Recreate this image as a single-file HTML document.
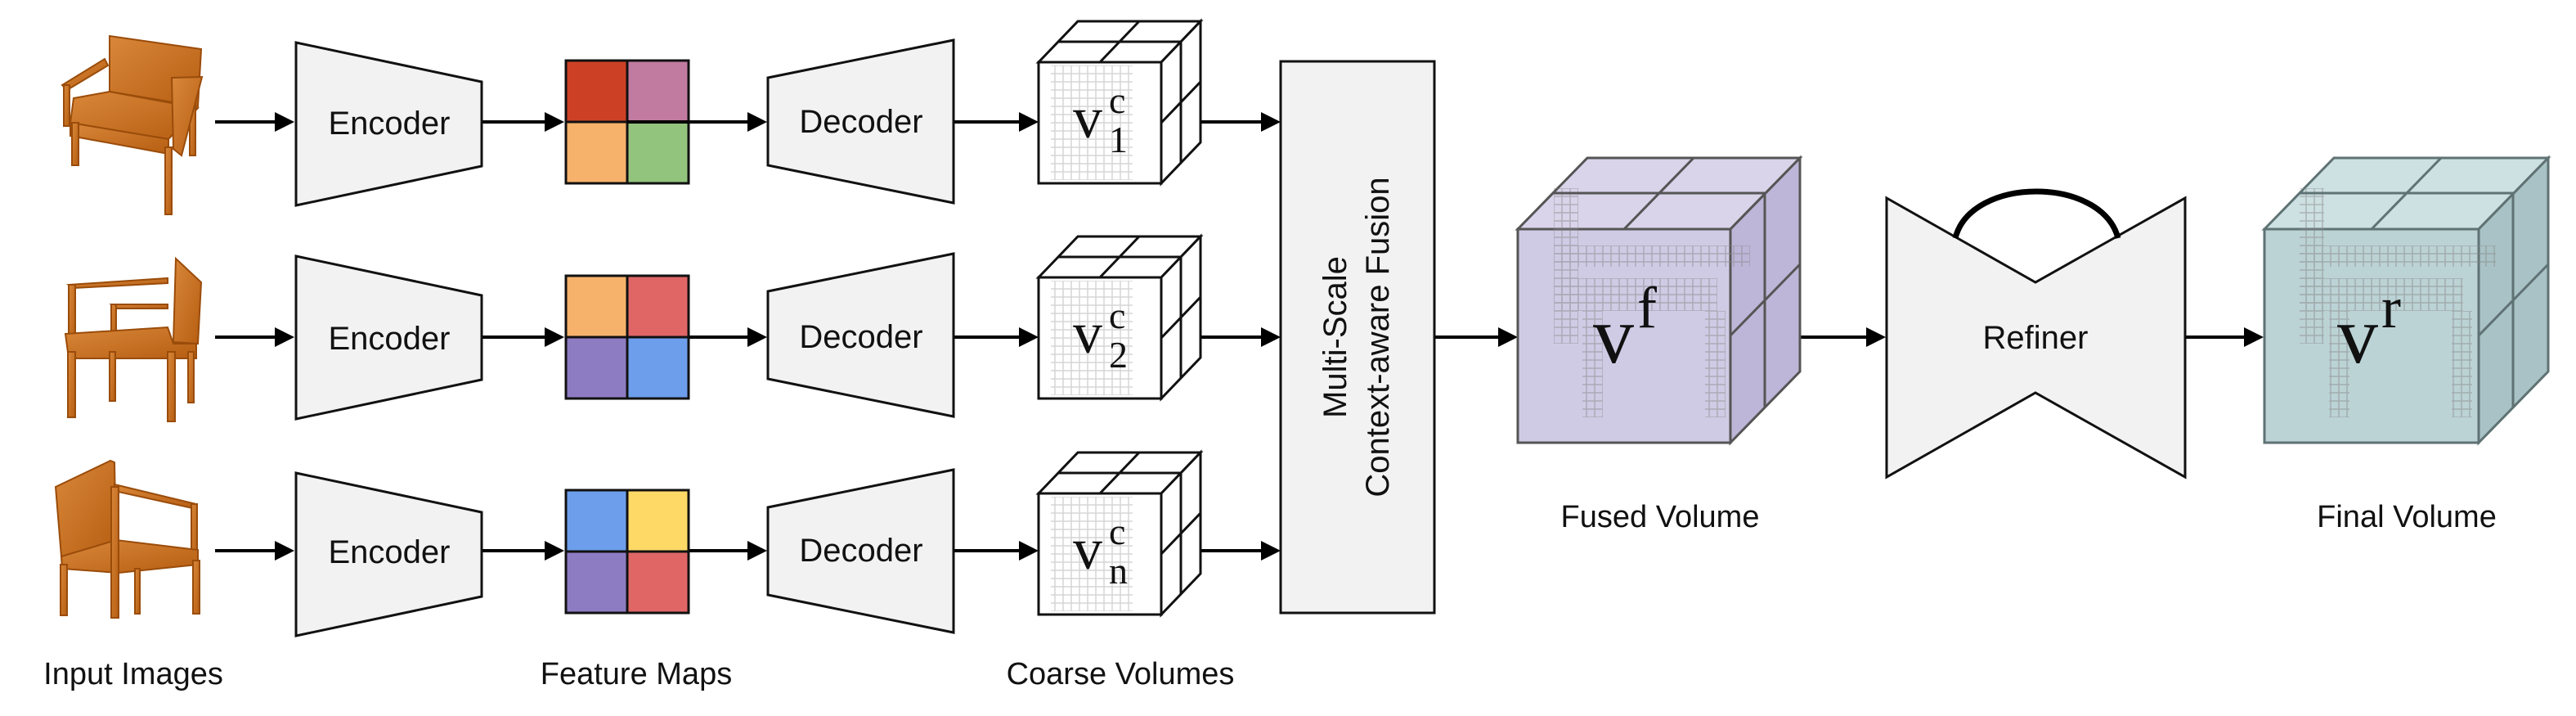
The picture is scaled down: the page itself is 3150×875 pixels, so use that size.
<!DOCTYPE html>
<html><head><meta charset="utf-8"><style>
html,body{margin:0;padding:0;background:#fff;}
svg{display:block;}
.lbl{font-family:"Liberation Sans",sans-serif;font-size:38px;fill:#111;}
.m{font-family:"Liberation Serif",serif;fill:#111;}
</style></head><body>
<svg width="3150" height="875" viewBox="0 0 3150 875" xmlns="http://www.w3.org/2000/svg">
<defs>
<marker id="ah" markerWidth="6" markerHeight="6" refX="5" refY="3" orient="auto" markerUnits="strokeWidth">
<path d="M0,0 L6,3 L0,6 z" fill="#000"/></marker>
<pattern id="vox" width="10" height="10" patternUnits="userSpaceOnUse">
<rect width="10" height="10" fill="none" stroke="#888" stroke-width="1.5"/></pattern>
<linearGradient id="wood" x1="0" y1="0" x2="1" y2="1"><stop offset="0" stop-color="#d9873a"/><stop offset="1" stop-color="#b65e12"/></linearGradient>
</defs>

<g fill="url(#wood)" stroke="#9a4c0a" stroke-width="2">
 <polygon points="134,44 246,60 242,130 134,112"/>
 <polygon points="90,120 134,112 242,132 206,170 86,150"/>
 <polygon points="86,150 206,170 206,188 86,166"/>
 <rect x="88" y="150" width="8" height="52"/><rect x="202" y="180" width="8" height="82"/><rect x="232" y="130" width="7" height="60"/>
 <polygon points="76,104 128,72 132,80 82,110"/><rect x="78" y="104" width="7" height="50"/>
 <polygon points="210,95 247,94 222,190 212,182"/>
 <polygon points="215,316 246,345 242,420 212,418"/>
 <polygon points="84,348 205,340 205,346 90,352"/><rect x="84" y="348" width="8" height="70"/>
 <polygon points="136,372 205,372 205,377 141,377"/><rect x="136" y="372" width="6" height="45"/>
 <polygon points="80,408 205,400 212,420 240,420 240,438 84,438"/>
 <rect x="83" y="430" width="9" height="80"/><rect x="134" y="430" width="7" height="60"/><rect x="205" y="430" width="9" height="85"/><rect x="230" y="430" width="7" height="62"/>
 <polygon points="68,595 135,563 140,565 142,672 75,680"/>
 <polygon points="140,592 240,616 240,622 140,600"/><rect x="234" y="616" width="7" height="70"/>
 <polygon points="75,680 142,660 242,672 242,690 145,700 76,695"/>
 <rect x="74" y="690" width="8" height="62"/><rect x="136" y="595" width="9" height="160"/><rect x="165" y="695" width="6" height="55"/><rect x="236" y="685" width="8" height="65"/>
</g>

<g stroke="#000" stroke-width="4" fill="none" marker-end="url(#ah)">
 <line x1="263" y1="149" x2="356" y2="149"/><line x1="263" y1="412" x2="356" y2="412"/><line x1="263" y1="673" x2="356" y2="673"/>
 <line x1="589" y1="149" x2="686" y2="149"/><line x1="589" y1="412" x2="686" y2="412"/><line x1="589" y1="673" x2="686" y2="673"/>
 <line x1="767" y1="149" x2="934" y2="149"/><line x1="767" y1="412" x2="934" y2="412"/><line x1="767" y1="673" x2="934" y2="673"/>
 <line x1="1166" y1="149" x2="1266" y2="149"/><line x1="1166" y1="412" x2="1266" y2="412"/><line x1="1166" y1="673" x2="1266" y2="673"/>
 <line x1="1469" y1="149" x2="1562" y2="149"/><line x1="1469" y1="412" x2="1562" y2="412"/><line x1="1469" y1="673" x2="1562" y2="673"/>
 <line x1="1754" y1="412" x2="1852" y2="412"/>
 <line x1="2201" y1="412" x2="2302" y2="412"/>
 <line x1="2672" y1="412" x2="2764" y2="412"/>
</g>

<g fill="#f2f2f2" stroke="#111" stroke-width="3">
 <polygon points="362,52 589,100 589,203 362,251"/>
 <polygon points="362,313 589,361 589,464 362,512"/>
 <polygon points="362,578 589,626 589,729 362,777"/>
 <polygon points="939,95 1166,49 1166,248 939,202"/>
 <polygon points="939,356 1166,310 1166,509 939,463"/>
 <polygon points="939,620 1166,574 1166,773 939,727"/>
</g>
<g class="lbl" text-anchor="middle" style="font-size:40px">
 <text x="476" y="164">Encoder</text><text x="476" y="427">Encoder</text><text x="476" y="688">Encoder</text>
 <text x="1053" y="162">Decoder</text><text x="1053" y="425">Decoder</text><text x="1053" y="686">Decoder</text>
</g>

<g stroke="#111" stroke-width="3">
 <rect x="692" y="74" width="75" height="75" fill="#cc4125"/><rect x="767" y="74" width="75" height="75" fill="#c27ba0"/>
 <rect x="692" y="149" width="75" height="75" fill="#f6b26b"/><rect x="767" y="149" width="75" height="75" fill="#93c47d"/>
 <rect x="692" y="337" width="75" height="75" fill="#f6b26b"/><rect x="767" y="337" width="75" height="75" fill="#e06666"/>
 <rect x="692" y="412" width="75" height="75" fill="#8e7cc3"/><rect x="767" y="412" width="75" height="75" fill="#6d9eeb"/>
 <rect x="692" y="599" width="75" height="75" fill="#6d9eeb"/><rect x="767" y="599" width="75" height="75" fill="#ffd966"/>
 <rect x="692" y="674" width="75" height="75" fill="#8e7cc3"/><rect x="767" y="674" width="75" height="75" fill="#e06666"/>
</g>
<line x1="767" y1="149" x2="842" y2="149" stroke="#000" stroke-width="4"/>

<g id="cc">
<g stroke="#111" stroke-width="3" fill="#fff">
 <polygon points="1270,76 1318,26 1468,26 1420,76"/>
 <polygon points="1420,76 1468,26 1468,174 1420,224"/>
 <rect x="1270" y="76" width="150" height="148"/>
 <rect x="1285" y="80" width="100" height="140" fill="url(#vox)" stroke="none" opacity="0.35"/>
 <line x1="1345" y1="76" x2="1393" y2="26"/><line x1="1294" y1="51" x2="1444" y2="51"/>
 <line x1="1444" y1="51" x2="1444" y2="199"/><line x1="1420" y1="150" x2="1468" y2="100"/>
</g>
</g>
<use href="#cc" y="263"/><use href="#cc" y="527"/>
<g class="m">
 <text x="1312" y="168" font-size="72">v</text><text x="1356" y="138" font-size="46">c</text><text x="1356" y="186" font-size="46">1</text>
 <text x="1312" y="431" font-size="72">v</text><text x="1356" y="401" font-size="46">c</text><text x="1356" y="449" font-size="46">2</text>
 <text x="1312" y="695" font-size="72">v</text><text x="1356" y="665" font-size="46">c</text><text x="1356" y="713" font-size="46">n</text>
</g>

<rect x="1566" y="75" width="188" height="674" fill="#f2f2f2" stroke="#111" stroke-width="3"/>
<g class="lbl" style="font-size:40px" text-anchor="middle" transform="translate(1660,412) rotate(-90)">
 <text x="0" y="-14">Multi-Scale</text><text x="0" y="38">Context-aware Fusion</text>
</g>

<g stroke="#555" stroke-width="3">
 <polygon points="1856,280 1941,193 2201,193 2116,280" fill="#d9d4ea"/>
 <polygon points="2116,280 2201,193 2201,454 2116,541" fill="#bdb6d8"/>
 <rect x="1856" y="280" width="260" height="261" fill="#d0cbe5"/>
 <g fill="url(#vox)" stroke="none" opacity="0.5">
  <rect x="1900" y="230" width="30" height="190"/><rect x="1900" y="300" width="240" height="26"/>
  <rect x="1900" y="340" width="200" height="40"/><rect x="1935" y="380" width="25" height="130"/><rect x="2085" y="380" width="25" height="130"/>
 </g>
 <g fill="none"><line x1="1986" y1="280" x2="2071" y2="193"/><line x1="1898" y1="236" x2="2158" y2="236"/>
 <line x1="2158" y1="236" x2="2158" y2="498"/><line x1="2116" y1="410" x2="2201" y2="323"/></g>
</g>
<g class="m"><text x="1948" y="443" font-size="100">v</text><text x="2002" y="400" font-size="72">f</text></g>

<polygon points="2307,242 2489,345 2672,242 2672,583 2489,480 2307,583" fill="#f2f2f2" stroke="#111" stroke-width="3"/>
<path d="M2391,291 C2410,215 2570,215 2590,291" fill="none" stroke="#000" stroke-width="7"/>
<text class="lbl" x="2489" y="426" text-anchor="middle" style="font-size:40px">Refiner</text>

<g stroke="#5f7274" stroke-width="3">
 <polygon points="2769,280 2854,193 3116,193 3031,280" fill="#cde0e2"/>
 <polygon points="3031,280 3116,193 3116,454 3031,541" fill="#a9c2c5"/>
 <rect x="2769" y="280" width="262" height="261" fill="#bcd3d6"/>
 <g fill="url(#vox)" stroke="none" opacity="0.5">
  <rect x="2812" y="230" width="30" height="190"/><rect x="2812" y="300" width="240" height="26"/>
  <rect x="2812" y="340" width="200" height="40"/><rect x="2848" y="380" width="25" height="130"/><rect x="2998" y="380" width="25" height="130"/>
 </g>
 <g fill="none"><line x1="2900" y1="280" x2="2985" y2="193"/><line x1="2811" y1="236" x2="3073" y2="236"/>
 <line x1="3073" y1="236" x2="3073" y2="498"/><line x1="3031" y1="410" x2="3116" y2="323"/></g>
</g>
<g class="m"><text x="2858" y="443" font-size="100">v</text><text x="2912" y="400" font-size="72">r</text></g>

<g class="lbl" text-anchor="middle">
 <text x="163" y="836">Input Images</text>
 <text x="778" y="836">Feature Maps</text>
 <text x="1370" y="836">Coarse Volumes</text>
 <text x="2030" y="644">Fused Volume</text>
 <text x="2943" y="644">Final Volume</text>
</g>
</svg>
</body></html>
